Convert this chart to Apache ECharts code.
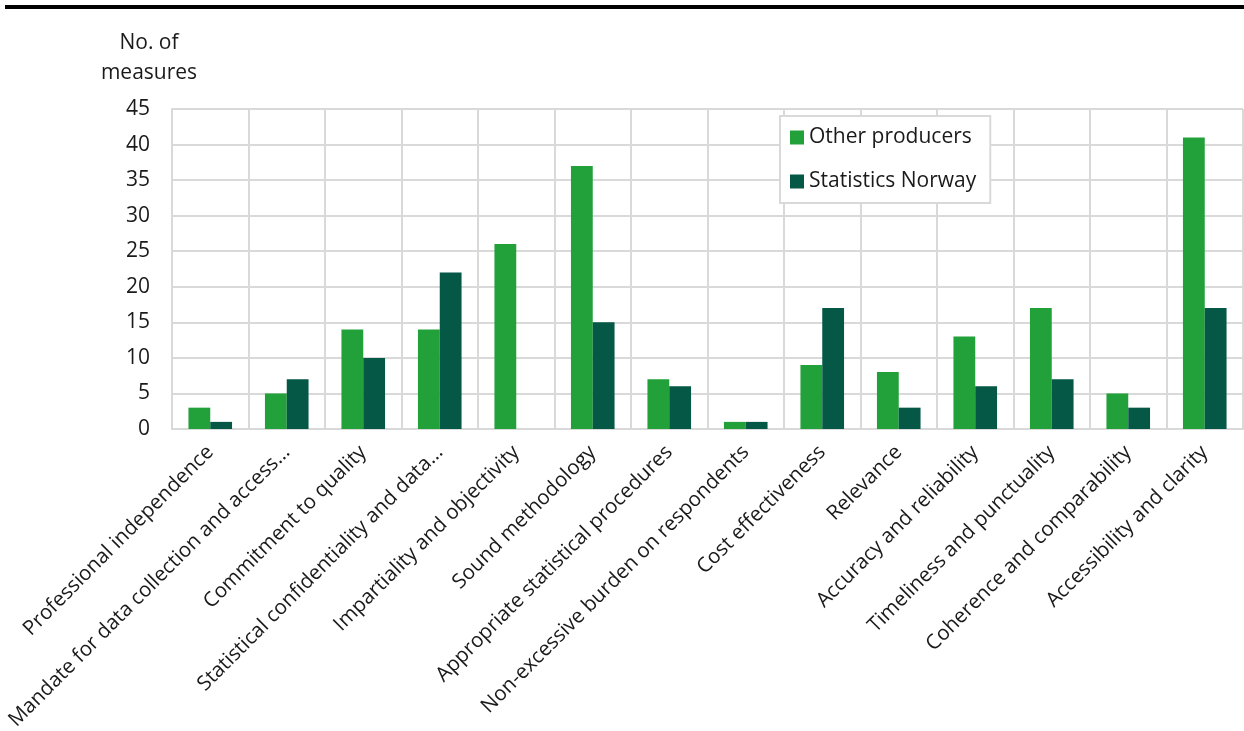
<!DOCTYPE html>
<html lang="en">
<head>
<meta charset="utf-8">
<title>Measures by principle</title>
<script src="https://cdn.jsdelivr.net/npm/echarts@6/dist/echarts.min.js"></script>
<style>
  html, body { margin: 0; padding: 0; background: #fff; }
  #main { width: 1244px; height: 731px; }
</style>
</head>
<body>
<div id="main"></div>
<script>
  // categories (labels as printed in the chart)
  const principles = [
    'Professional independence',
    'Mandate for data collection and access...',
    'Commitment to quality',
    'Statistical confidentiality and data...',
    'Impartiality and objectivity',
    'Sound methodology',
    'Appropriate statistical procedures',
    'Non-excessive burden on respondents',
    'Cost effectiveness',
    'Relevance',
    'Accuracy and reliability',
    'Timeliness and punctuality',
    'Coherence and comparability',
    'Accessibility and clarity'
  ];
  const otherProducers = [3, 5, 14, 14, 26, 37, 7, 1, 9, 8, 13, 17, 5, 41];
  const statisticsNorway = [1, 7, 10, 22, 0, 15, 6, 1, 17, 3, 6, 7, 3, 17];

  const chart = echarts.init(document.getElementById('main'));
  const font = '"Open Sans", "Noto Sans", sans-serif';

  const option = {
    animation: false,
    textStyle: { fontFamily: font },
    graphic: [
      { type: 'rect', shape: { x: 5, y: 5, width: 1239, height: 4 }, style: { fill: '#000' } },
      {
        type: 'text', x: 149, y: 28,
        style: { text: 'No. of\nmeasures', font: '21px ' + font, fill: '#1a1a1a', align: 'center', lineHeight: 30 }
      }
    ],
    grid: { left: 172, right: 1, top: 109, bottom: 302, containLabel: false, outerBoundsMode: 'none' },
    legend: {
      orient: 'vertical',
      left: 780, top: 116,
      padding: [11, 14, 11, 10],
      itemGap: 23,
      itemWidth: 14, itemHeight: 14,
      icon: 'rect',
      borderColor: '#d9d9d9', borderWidth: 2,
      backgroundColor: '#fff',
      textStyle: { fontSize: 21, color: '#1a1a1a', fontFamily: font },
      data: ['Other producers', 'Statistics Norway']
    },
    xAxis: {
      type: 'category',
      data: principles,
      axisLine: { show: true, lineStyle: { color: '#d9d9d9', width: 2 } },
      axisTick: { show: false },
      splitLine: { show: true, lineStyle: { color: '#d9d9d9', width: 2 } },
      axisLabel: {
        interval: 0, rotate: 45, margin: 20,
        fontSize: 20.5, color: '#1a1a1a', fontFamily: font
      }
    },
    yAxis: {
      type: 'value', min: 0, max: 45, interval: 5,
      axisLine: { show: true, lineStyle: { color: '#d9d9d9', width: 2 } },
      axisTick: { show: false },
      splitLine: { lineStyle: { color: '#d9d9d9', width: 2 } },
      axisLabel: { fontSize: 21, color: '#1a1a1a', margin: 22, fontFamily: font }
    },
    series: [
      {
        name: 'Other producers', type: 'bar', data: otherProducers,
        itemStyle: { color: '#22a13a' }, barGap: '0%', barCategoryGap: '43%'
      },
      {
        name: 'Statistics Norway', type: 'bar', data: statisticsNorway,
        itemStyle: { color: '#055746' }, barGap: '0%', barCategoryGap: '43%'
      }
    ]
  };

  chart.setOption(option);
</script>
</body>
</html>
